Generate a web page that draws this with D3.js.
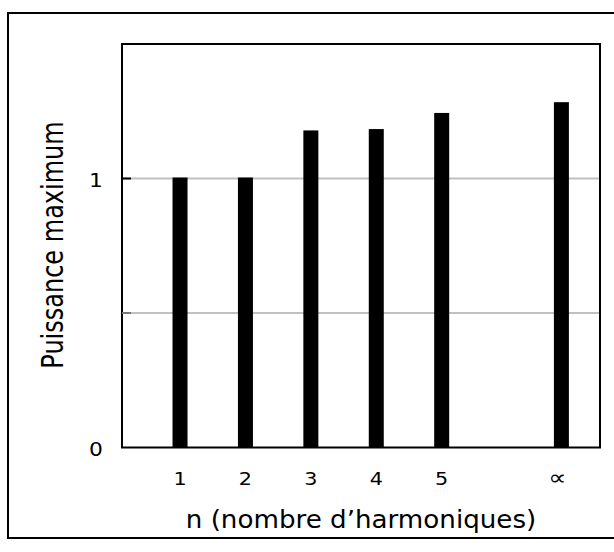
<!DOCTYPE html>
<html><head><meta charset="utf-8">
<script src="https://cdn.jsdelivr.net/npm/d3@7"></script>
<style>body{margin:0;background:#fff}svg{display:block}</style>
</head><body>
<script>
const categories = ["1","2","3","4","5","\u221D"];
const positions = [1,2,3,4,5,6.83];
const values = [1.0, 1.0, 1.175, 1.18, 1.24, 1.28];
const yTicks = [0, 1];
const yGrid = [0.5, 1];

const W = 614, H = 552;
const m = {left:122, top:44, right:600, bottom:447.5};
const svg = d3.select("body").append("svg").attr("width", W).attr("height", H);
const font = "DejaVu Sans";

// outer frame
svg.append("rect").attr("x", 8).attr("y", 13).attr("width", 612).attr("height", 525)
  .attr("fill", "none").attr("stroke", "#000").attr("stroke-width", 2);

const x = d3.scaleLinear().domain([0.113, 7.42]).range([m.left, m.right]);
const y = d3.scaleLinear().domain([0, 1.5]).range([m.bottom, m.top]);

// gridlines
svg.append("g").selectAll("line").data(yGrid).join("line")
  .attr("x1", m.left).attr("x2", m.right)
  .attr("y1", d => y(d)).attr("y2", d => y(d))
  .attr("stroke", "#c0c0c0").attr("stroke-width", 2);

// bars
const bw = 15;
svg.append("g").selectAll("rect").data(values).join("rect")
  .attr("x", (d,i) => x(positions[i]) - bw/2)
  .attr("width", bw)
  .attr("y", d => y(d) - 1)
  .attr("height", d => y(0) - y(d) + 1)
  .attr("fill", "#000");

// plot border
svg.append("rect").attr("x", m.left).attr("y", m.top)
  .attr("width", m.right - m.left).attr("height", m.bottom - m.top)
  .attr("fill", "none").attr("stroke", "#000").attr("stroke-width", 2);

// y axis ticks (inside)
svg.append("g").selectAll("line").data(yGrid).join("line")
  .attr("x1", m.left).attr("x2", m.left + 9)
  .attr("y1", d => y(d)).attr("y2", d => y(d))
  .attr("stroke", d => d === 1 ? "#000" : "#777").attr("stroke-width", 2);

// y tick labels
svg.append("g").selectAll("text").data(yTicks).join("text")
  .attr("transform", d => `translate(96,${y(d) + 8.5}) scale(1.15,1)`)
  .attr("text-anchor", "middle")
  .attr("font-family", font).attr("font-size", 19).attr("fill", "#000")
  .text(d => d);

// x tick labels
svg.append("g").selectAll("text").data(categories).join("text")
  .attr("transform", (d,i) => `translate(${x(positions[i]) - (i === 5 ? 4 : 0)},485) scale(1.15,1)`)
  .attr("text-anchor", "middle")
  .attr("font-family", font).attr("font-size", (d,i) => i === 5 ? 22 : 18).attr("fill", "#000")
  .text(d => d);

// axis titles
svg.append("text").attr("transform", "translate(361,528) scale(1.09,1)")
  .attr("text-anchor", "middle").attr("font-family", font).attr("font-size", 24)
  .text("n (nombre d\u2019harmoniques)");

svg.append("text").attr("transform", "translate(62.5,245) scale(1.25,1) rotate(-90)")
  .attr("text-anchor", "middle").attr("font-family", font).attr("font-size", 24)
  .text("Puissance maximum");
</script>
</body></html>
